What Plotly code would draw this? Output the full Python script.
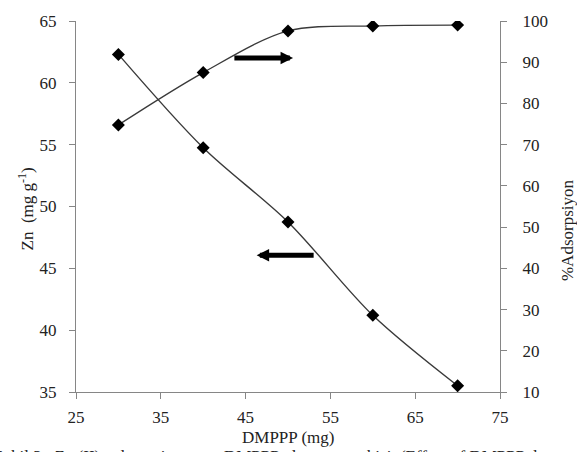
import plotly.graph_objects as go

# Data
dmppp = [30, 40, 50, 60, 70]
zn_capacity = [62.3, 54.75, 48.75, 41.2, 35.5]          # left axis, Zn (mg g-1)
adsorption_pct = [74.8, 87.5, 97.6, 98.8, 99.0]          # right axis, %Adsorpsiyon

x_ticks = [25, 35, 45, 55, 65, 75]
left_ticks = [35, 40, 45, 50, 55, 60, 65]
right_ticks = [10, 20, 30, 40, 50, 60, 70, 80, 90, 100]

# Arrow annotations (tail x, head x, y)
arrow_right = dict(x_tail=43.5, x_head=50.6, y=91.0)   # points to right axis
arrow_left = dict(x_tail=53.2, x_head=46.3, y=46.05)   # points to left axis

W, H = 577, 452
ML, MR, MT, MB = 76, 77, 14, 60
PW, PH = W - ML - MR, H - MT - MB

FONT = "Times New Roman, Liberation Serif, serif"
AX = "#868686"

def px_to_paper_x(px):
    return (px - ML) / PW

def px_to_paper_y(py):
    return (H - MB - py) / PH

fig = go.Figure()
fig.add_trace(go.Scatter(
    x=dmppp, y=zn_capacity, mode="lines+markers",
    line=dict(color="#3a3a3a", width=1.4, shape="spline", smoothing=0.9),
    marker=dict(symbol="diamond", size=10, color="black"),
    yaxis="y", showlegend=False))
fig.add_trace(go.Scatter(
    x=dmppp, y=adsorption_pct, mode="lines+markers",
    line=dict(color="#3a3a3a", width=1.4, shape="spline", smoothing=0.9),
    marker=dict(symbol="diamond", size=10, color="black"),
    yaxis="y2", showlegend=False))

axis_common = dict(showgrid=False, zeroline=False, showline=True, linecolor=AX,
                   linewidth=1, ticks="outside", ticklen=6, tickcolor=AX,
                   tickfont=dict(family=FONT, size=17, color="#222"))

fig.update_layout(
    width=W, height=H,
    margin=dict(l=ML, r=MR, t=MT, b=MB),
    paper_bgcolor="white", plot_bgcolor="white",
    xaxis=dict(range=[25, 75], tickvals=x_ticks, ticktext=[str(v) for v in x_ticks],
               ticklabelstandoff=4, **axis_common),
    yaxis=dict(range=[35, 65], tickvals=left_ticks, ticktext=[str(v) for v in left_ticks],
               ticklabelstandoff=9, **axis_common),
    yaxis2=dict(range=[10, 100], tickvals=right_ticks, ticktext=[str(v) for v in right_ticks],
                overlaying="y", side="right", ticklabelstandoff=12, **axis_common),
)

ann = []
# Axis titles
ann.append(dict(text="DMPPP (mg)", xref="paper", yref="paper",
                x=0.5, y=px_to_paper_y(438.5), xanchor="center", yanchor="middle",
                showarrow=False, font=dict(family=FONT, size=17, color="#222")))
ann.append(dict(text="Zn  (mg g<sup>-1</sup>)", xref="paper", yref="paper",
                x=px_to_paper_x(26), y=px_to_paper_y(206), xanchor="center", yanchor="middle",
                textangle=-90, showarrow=False, font=dict(family=FONT, size=17, color="#222")))
ann.append(dict(text="%Adsorpsiyon", xref="paper", yref="paper",
                x=px_to_paper_x(567), y=px_to_paper_y(227), xanchor="center", yanchor="middle",
                textangle=-90, showarrow=False, font=dict(family=FONT, size=17, color="#222")))
# Caption (cut off at bottom)
ann.append(dict(text="Şekil 3.  Zn (II)  adsorpsiyonuna  DMPPP  dozunun  etkisi  (Effect of DMPPP dose on Zn (II) adsorption)",
                xref="paper", yref="paper", x=px_to_paper_x(-8), y=px_to_paper_y(446.5),
                xanchor="left", yanchor="top", showarrow=False,
                font=dict(family=FONT, size=17, color="#222")))
# Arrows
ann.append(dict(text="", xref="x", yref="y2", axref="x", ayref="y2",
                x=arrow_right["x_head"], y=arrow_right["y"],
                ax=arrow_right["x_tail"], ay=arrow_right["y"],
                showarrow=True, arrowhead=2, arrowsize=0.5, arrowwidth=5, arrowcolor="black"))
ann.append(dict(text="", xref="x", yref="y", axref="x", ayref="y",
                x=arrow_left["x_head"], y=arrow_left["y"],
                ax=arrow_left["x_tail"], ay=arrow_left["y"],
                showarrow=True, arrowhead=2, arrowsize=0.5, arrowwidth=5, arrowcolor="black"))
fig.update_layout(annotations=ann)

fig.write_html("out.html")
